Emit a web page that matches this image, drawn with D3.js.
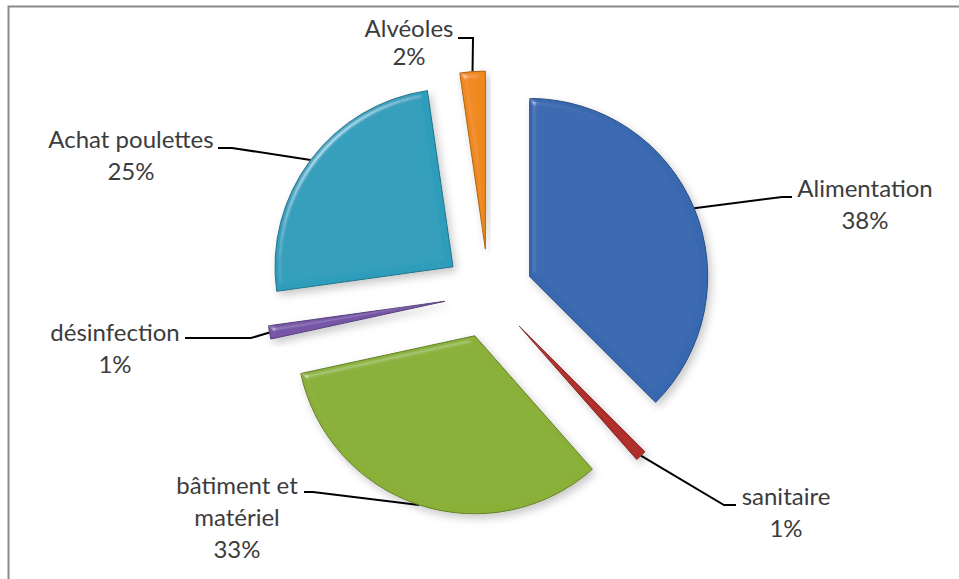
<!DOCTYPE html>
<html>
<head>
<meta charset="utf-8">
<script src="https://cdn.jsdelivr.net/npm/d3@7"></script>
<style>
  html, body { margin: 0; padding: 0; background: #ffffff; }
  svg { display: block; }
</style>
</head>
<body>
<svg id="chart" width="959" height="579"></svg>
<script>
// ---- data ----
const categories = ["Alimentation", "sanitaire", "bâtiment et matériel", "désinfection", "Achat poulettes", "Alvéoles"];
const labelLines = [["Alimentation"], ["sanitaire"], ["bâtiment et", "matériel"], ["désinfection"], ["Achat poulettes"], ["Alvéoles"]];
const values = [37.5, 1.0, 33.1, 1.2, 24.9, 2.3];
const colors = ["#3868b0", "#b02d2a", "#8ab038", "#7757a8", "#2f9dbb", "#ef891b"];

// ---- layout (positions, not data) ----
const W = 959, H = 579;
const cx = 488.6, cy = 293.5, R = 178, explode = 44.5;
const labelLayout = [
  { x: 865, y: 197, gap: 32, elbow: [[792, 197], [782, 197]] },
  { x: 786, y: 505, gap: 32, elbow: [[736, 505], [724, 505]] },
  { x: 237, y: 494, gap: 32, elbow: [[304, 492], [313, 492]] },
  { x: 115, y: 341, gap: 32, elbow: [[185, 338], [251, 338]] },
  { x: 131, y: 148, gap: 32, elbow: [[218, 148], [232, 148]] },
  { x: 409, y: 37,  gap: 28, elbow: [[458, 38], [473, 38]] }
];

const svg = d3.select("#chart");

// frame
svg.append("path")
  .attr("d", `M8.5,${H} L8.5,6.5 L${W},6.5`)
  .attr("fill", "none").attr("stroke", "#8a8a8a").attr("stroke-width", 2);

// filters: bevel + soft shadow
const defs = svg.append("defs");
const f = defs.append("filter").attr("id", "bevel")
  .attr("x", "-20%").attr("y", "-20%").attr("width", "140%").attr("height", "140%");
f.append("feGaussianBlur").attr("in", "SourceAlpha").attr("stdDeviation", 3).attr("result", "blur");
const sp = f.append("feSpecularLighting").attr("in", "blur").attr("surfaceScale", 4)
  .attr("specularConstant", 0.9).attr("specularExponent", 45)
  .attr("lighting-color", "#ffffff").attr("result", "spec");
sp.append("feDistantLight").attr("azimuth", 225).attr("elevation", 42);
f.append("feComposite").attr("in", "spec").attr("in2", "SourceAlpha").attr("operator", "in").attr("result", "specIn");
f.append("feComposite").attr("in", "SourceGraphic").attr("in2", "specIn").attr("operator", "arithmetic")
  .attr("k1", 0).attr("k2", 1).attr("k3", 0.4).attr("k4", 0).attr("result", "lit");
f.append("feGaussianBlur").attr("in", "SourceAlpha").attr("stdDeviation", 4).attr("result", "sblur");
f.append("feOffset").attr("in", "sblur").attr("dx", 3).attr("dy", 4).attr("result", "soff");
f.append("feFlood").attr("flood-color", "#000").attr("flood-opacity", 0.22).attr("result", "sc");
f.append("feComposite").attr("in", "sc").attr("in2", "soff").attr("operator", "in").attr("result", "shadow");
const m = f.append("feMerge");
m.append("feMergeNode").attr("in", "shadow");
m.append("feMergeNode").attr("in", "lit");

const pie = d3.pie().sort(null).value(d => d).startAngle(0).endAngle(2 * Math.PI);
const arcs = pie(values);
const arc = d3.arc().innerRadius(0).outerRadius(R);

const mid = d => (d.startAngle + d.endAngle) / 2;
const off = (d, r) => [Math.sin(mid(d)) * r, -Math.cos(mid(d)) * r];

// leader lines
const leaderG = svg.append("g");
arcs.forEach((d, i) => {
  const p = off(d, R + explode);
  const pts = labelLayout[i].elbow.concat([[cx + p[0], cy + p[1]]]);
  leaderG.append("path")
    .attr("d", d3.line()(pts))
    .attr("fill", "none").attr("stroke", "#000").attr("stroke-width", 2);
});

// slices
const g = svg.append("g").attr("transform", `translate(${cx},${cy})`);
g.selectAll("path.slice").data(arcs).join("path")
  .attr("class", "slice")
  .attr("transform", d => { const o = off(d, explode); return `translate(${o[0]},${o[1]})`; })
  .attr("d", arc)
  .attr("fill", (d, i) => colors[i])
  .attr("stroke", (d, i) => d3.color(colors[i]).darker(0.9))
  .attr("stroke-width", 1)
  .attr("stroke-linejoin", "round")
  .attr("filter", "url(#bevel)");

// labels
const lg = svg.append("g")
  .attr("font-family", "Lato, 'Open Sans', sans-serif")
  .attr("font-size", 24).attr("fill", "#3c3c3c").attr("text-anchor", "middle");
arcs.forEach((d, i) => {
  const L = labelLayout[i];
  const lines = labelLines[i].concat([Math.round(values[i]) + "%"]);
  const t = lg.append("text").attr("x", L.x).attr("y", L.y);
  lines.forEach((s, k) => {
    t.append("tspan").attr("x", L.x).attr("y", L.y + k * L.gap).text(s);
  });
});
</script>
</body>
</html>
